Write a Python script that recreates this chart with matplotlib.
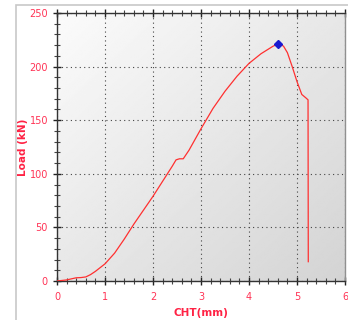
import numpy as np
import matplotlib
matplotlib.use("Agg")
import matplotlib.pyplot as plt
from matplotlib.ticker import MultipleLocator
from matplotlib.patches import Rectangle

# data
cht_mm = [0.0, 0.1, 0.2, 0.3, 0.4, 0.5, 0.6, 0.7, 0.8, 0.9, 1.0, 1.2, 1.4, 1.6, 1.8,
          2.0, 2.2, 2.4, 2.48, 2.55, 2.63, 2.75, 3.0, 3.25, 3.5, 3.75, 4.0, 4.25,
          4.5, 4.6, 4.65, 4.72, 4.8, 4.9, 5.0, 5.1, 5.18, 5.23, 5.235]
load_kn = [0.0, 0.5, 1.0, 2.0, 3.0, 3.2, 3.8, 6.0, 9.0, 12.5, 16.0, 26.0, 39.0, 53.0, 66.0,
           79.0, 93.0, 107.0, 113.0, 114.0, 114.0, 122.0, 142.0, 161.0, 177.0, 191.0, 203.0, 212.0,
           219.0, 221.0, 221.0, 219.0, 213.0, 200.0, 186.0, 174.0, 171.0, 169.0, 18.0]
peak_x = [4.6]
peak_y = [221.0]

x_ticks = [0, 1, 2, 3, 4, 5, 6]
y_ticks = [0, 50, 100, 150, 200, 250]

fig = plt.figure(figsize=(3.48, 3.20), dpi=100)
fig.patch.set_facecolor("white")
# outer panel frame
fig.patches.append(Rectangle((15.5/348, -0.1), 1.2, 1.1 - 5.5/320, transform=fig.transFigure,
                             fill=False, edgecolor="#c8c8c8", linewidth=1.2, zorder=0))

ax = fig.add_axes([57/348, 1 - 281/320, 288/348, 268/320])
ax.set_xlim(0, 6)
ax.set_ylim(0, 250)

# gradient background
xx, yy = np.meshgrid(np.linspace(0, 1, 200), np.linspace(0, 1, 200))
g = 0.985 - 0.13 * (xx * 0.6 + (1 - yy) * 0.6)
ax.imshow(g, extent=[0, 1, 0, 1], transform=ax.transAxes, cmap="gray", vmin=0, vmax=1,
          origin="lower", aspect="auto", zorder=0, interpolation="bilinear")

ax.grid(True, which="major", color="#444444", linestyle=(0, (1, 3)), linewidth=0.8)
ax.set_axisbelow(True)

ax.plot(cht_mm, load_kn, color="#ff3030", linewidth=0.9, zorder=3)
ax.plot(peak_x, peak_y, marker="D", color="#1a1ad0", markersize=4, linestyle="none", zorder=4)

ax.xaxis.set_major_locator(MultipleLocator(1))
ax.xaxis.set_minor_locator(MultipleLocator(0.2))
ax.yaxis.set_major_locator(MultipleLocator(50))
ax.yaxis.set_minor_locator(MultipleLocator(10))
ax.set_xticks(x_ticks)
ax.set_yticks(y_ticks)

tick_col = "#ff3355"
ax.tick_params(axis="both", which="major", direction="inout", length=6, width=1,
               colors="#222222", labelcolor=tick_col, labelsize=7, top=True)
ax.tick_params(axis="both", which="minor", direction="inout", length=4, width=0.8,
               colors="#444444", top=True)
ax.tick_params(axis="x", which="both", top=True)
ax.tick_params(axis="x", which="major", pad=5)

for s in ["left", "bottom", "top"]:
    ax.spines[s].set_color("#333333")
    ax.spines[s].set_linewidth(1.0)
ax.spines["right"].set_color("#909090")
ax.spines["right"].set_linewidth(1.0)

ax.set_xlabel("CHT(mm)", color="#ff2244", fontsize=7.5, fontweight="bold", labelpad=4)
ax.set_ylabel("Load (kN)", color="#ff2244", fontsize=7.5, fontweight="bold", labelpad=1)

fig.savefig("out.png", dpi=100)
